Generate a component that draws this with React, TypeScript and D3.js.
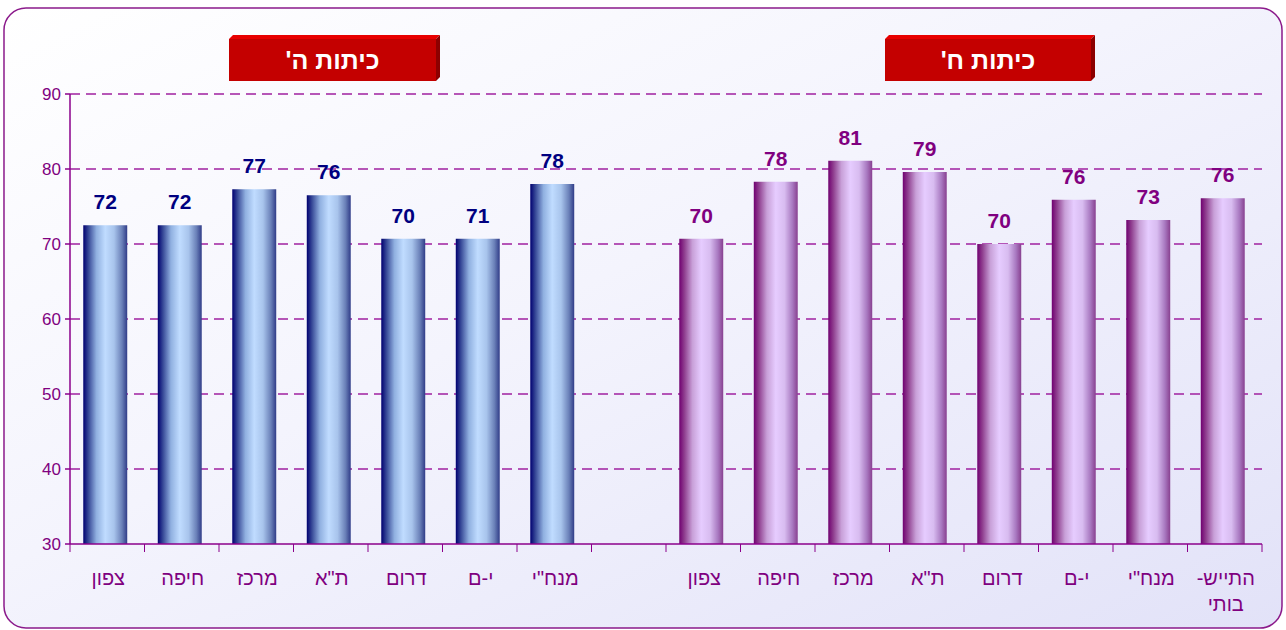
import React from "react";
import * as d3 from "d3";

const categories = [
  "צפון", "חיפה", "מרכז", "ת\"א", "דרום", "י-ם", "מנח\"י", "",
  "צפון", "חיפה", "מרכז", "ת\"א", "דרום", "י-ם", "מנח\"י", "התייש-|בותי",
];
const groupE = [72.5, 72.5, 77.3, 76.5, 70.7, 70.7, 78.0];
const groupELabels = ["72", "72", "77", "76", "70", "71", "78"];
const groupH = [70.7, 78.3, 81.1, 79.6, 70.0, 75.9, 73.2, 76.1];
const groupHLabels = ["70", "78", "81", "79", "70", "76", "73", "76"];
const yTicks = [30, 40, 50, 60, 70, 80, 90];
const titles = ["כיתות ה'", "כיתות ח'"];

const W = 1286, H = 630;
const m = { left: 70, right: 1262, top: 94, bottom: 544 };
const font = "'Liberation Sans', Arial, 'DejaVu Sans', sans-serif";

export default function App() {
  const slots = categories.map((_, i) => String(i));
  const x = d3.scaleBand().domain(slots).range([m.left - 2, m.right - 2]).paddingInner(0.41).paddingOuter(0.205);
  const xs = d3.scaleBand().domain(slots).range([m.left, m.right]);
  const y = d3.scaleLinear().domain([30, 90]).range([m.bottom, m.top]);
  const bars = [
    ...groupE.map((v, i) => ({ slot: i, v, label: groupELabels[i], g: "e" })),
    ...groupH.map((v, i) => ({ slot: i + 8, v, label: groupHLabels[i], g: "h" })),
  ];
  const boxes = [
    { x: 229, y: 35, w: 207, h: 46, t: titles[0] },
    { x: 885, y: 35, w: 206, h: 46, t: titles[1] },
  ];
  return (
    <svg width={W} height={H} style={{ position: "absolute", left: 0, top: 0 }} fontFamily={font}>
      <defs>
        <linearGradient id="bg" x1="0" y1="0" x2="1" y2="1">
          <stop offset="0" stopColor="#ffffff" />
          <stop offset="0.45" stopColor="#f4f4fd" />
          <stop offset="1" stopColor="#e2e2f8" />
        </linearGradient>
        <linearGradient id="gE" x1="0" x2="1" y1="0" y2="0">
          <stop offset="0" stopColor="#000070" />
          <stop offset="0.12" stopColor="#384a98" />
          <stop offset="0.3" stopColor="#90b0e0" />
          <stop offset="0.5" stopColor="#c0dcff" />
          <stop offset="0.7" stopColor="#a8c4ec" />
          <stop offset="0.88" stopColor="#6a80b8" />
          <stop offset="1" stopColor="#303c88" />
        </linearGradient>
        <linearGradient id="gH" x1="0" x2="1" y1="0" y2="0">
          <stop offset="0" stopColor="#700070" />
          <stop offset="0.12" stopColor="#904090" />
          <stop offset="0.3" stopColor="#c8a0d8" />
          <stop offset="0.5" stopColor="#e6ccff" />
          <stop offset="0.7" stopColor="#d8bcf0" />
          <stop offset="0.88" stopColor="#a878c0" />
          <stop offset="1" stopColor="#884090" />
        </linearGradient>
      </defs>
      <rect x={4} y={8} width={1278} height={620} rx={22} fill="url(#bg)" stroke="#8b1a8b" strokeWidth={1.5} />
      {boxes.map((b, i) => (
        <g key={i}>
          <polygon points={`${b.x},${b.y + 4} ${b.x + 4},${b.y} ${b.x + b.w + 4},${b.y} ${b.x + b.w},${b.y + 4}`} fill="#e80000" />
          <polygon points={`${b.x + b.w},${b.y + 4} ${b.x + b.w + 4},${b.y} ${b.x + b.w + 4},${b.y + b.h - 4} ${b.x + b.w},${b.y + b.h}`} fill="#8c0000" />
          <rect x={b.x} y={b.y + 4} width={b.w} height={b.h - 4} fill="#c40000" />
          <text x={b.x + b.w / 2} y={b.y + 34} textAnchor="middle" direction="rtl" fill="#ffffff" fontWeight="bold" fontSize={25}>{b.t}</text>
        </g>
      ))}
      {yTicks.filter(t => t > 30).map(t => (
        <line key={t} x1={m.left} x2={m.right} y1={y(t)} y2={y(t)} stroke="#a020a0" strokeWidth={1.4} strokeDasharray="10,6" />
      ))}
      {bars.map((b, i) => (
        <g key={i}>
          <rect x={x(String(b.slot))} y={y(b.v)} width={x.bandwidth()} height={m.bottom - y(b.v)} fill={b.g === "e" ? "url(#gE)" : "url(#gH)"} />
          <text x={x(String(b.slot))! + x.bandwidth() / 2} y={y(b.v) - 16} textAnchor="middle" fontWeight="bold" fontSize={21} fill={b.g === "e" ? "#000080" : "#800080"}>{b.label}</text>
        </g>
      ))}
      <line x1={m.left} x2={m.left} y1={m.top} y2={m.bottom} stroke="#8b008b" strokeWidth={1.5} />
      <line x1={m.left} x2={m.right} y1={m.bottom} y2={m.bottom} stroke="#8b008b" strokeWidth={1.5} />
      {yTicks.map(t => (
        <g key={t}>
          <line x1={m.left - 5} x2={m.left} y1={y(t)} y2={y(t)} stroke="#8b008b" strokeWidth={1.5} />
          <text x={m.left - 9} y={y(t) + 6} textAnchor="end" fontSize={17} fill="#800080">{t}</text>
        </g>
      ))}
      {slots.map(s => (
        <line key={s} x1={xs(s)} x2={xs(s)} y1={m.bottom} y2={m.bottom + 8} stroke="#8b008b" strokeWidth={1} />
      ))}
      <line x1={m.right} x2={m.right} y1={m.bottom} y2={m.bottom + 8} stroke="#8b008b" strokeWidth={1} />
      {categories.map((c, i) => {
        const lines = c.split("|");
        const cx = xs(String(i))! + xs.bandwidth() / 2 + 1;
        return (
          <text key={i} x={cx} y={585} textAnchor="middle" direction="rtl" fontSize={20} fill="#800080">
            {lines.map((l, j) => (
              <tspan key={j} x={cx} dy={j === 0 ? 0 : 26}>{l}</tspan>
            ))}
          </text>
        );
      })}
    </svg>
  );
}
